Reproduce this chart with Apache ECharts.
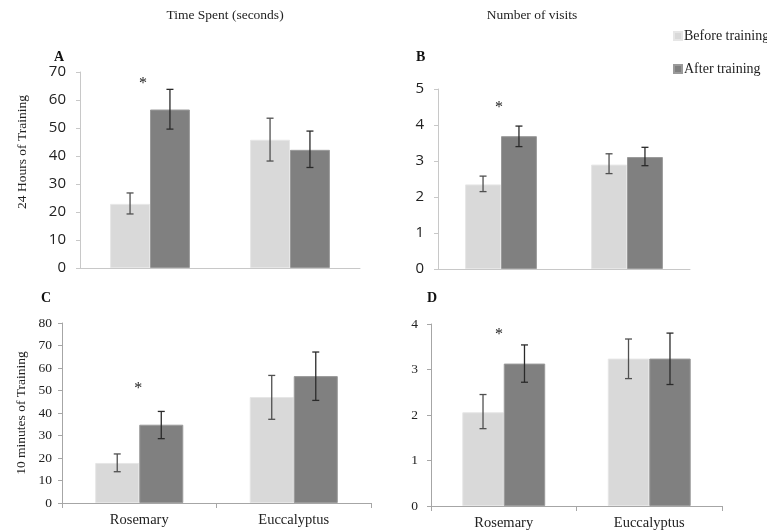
<!DOCTYPE html>
<html><head><meta charset="utf-8">
<script src="https://cdn.jsdelivr.net/npm/echarts@6/dist/echarts.min.js"></script>
<style>html,body{margin:0;padding:0;background:#fff}#c{width:767px;height:531px}</style>
</head><body><div id="c"></div>
<script>
const categories = ['Rosemary', 'Euccalyptus'];
const seriesNames = ['Before training', 'After training'];
// Panel A: time spent, 24 h
const aBefore = [22.9, 45.8], aBeforeLo = [19.3, 38.2], aBeforeHi = [26.8, 53.5];
const aAfter = [56.6, 42.2], aAfterLo = [49.6, 35.9], aAfterHi = [63.8, 48.9];
// Panel B: visits, 24 h
const bBefore = [2.35, 2.9], bBeforeLo = [2.15, 2.65], bBeforeHi = [2.58, 3.2];
const bAfter = [3.69, 3.11], bAfterLo = [3.4, 2.87], bAfterHi = [3.97, 3.38];
// Panel C: time spent, 10 min
const cBefore = [17.8, 47.1], cBeforeLo = [13.9, 37.2], cBeforeHi = [21.8, 56.7];
const cAfter = [34.8, 56.4], cAfterLo = [28.6, 45.6], cAfterHi = [40.7, 67.1];
// Panel D: visits, 10 min
const dBefore = [2.06, 3.24], dBeforeLo = [1.70, 2.80], dBeforeHi = [2.45, 3.67];
const dAfter = [3.13, 3.24], dAfterLo = [2.72, 2.67], dAfterHi = [3.54, 3.80];
// significance star heights
const starA = 67.1, starB = 4.6, starC = 52.6, starD = 3.86;
// y axis ranges
const yMaxA = 70, yIntA = 10, yMaxB = 5, yIntB = 1, yMaxC = 80, yIntC = 10, yMaxD = 4, yIntD = 1;
const yNameTop = '24 Hours of Training', yNameBottom = '10 minutes of Training';

const colBefore = '#d9d9d9', colAfter = '#808080';
const GAP = 0.43;
const serif = '"Liberation Serif", "Times New Roman", serif';
const sans = '"Open Sans", "Noto Sans", sans-serif';

const grids = [
  {left: 80, top: 72, width: 280, height: 196},
  {left: 438, top: 89, width: 252, height: 180},
  {left: 62, top: 323, width: 309, height: 180},
  {left: 431, top: 324, width: 291, height: 184}
];

function xAx(i, showLabels) {
  return {
    type: 'category', gridIndex: i, data: categories,
    axisLine: {lineStyle: {color: i < 2 ? '#c8c8c8' : '#a6a6a6', width: 1}},
    axisTick: {show: i >= 2, length: 5, lineStyle: {color: '#a6a6a6'}},
    axisLabel: {show: showLabels, fontFamily: serif, fontSize: 14.5, color: '#222', margin: 10}
  };
}
function yAx(i, max, interval, font, margin) {
  return {
    type: 'value', gridIndex: i, min: 0, max: max, interval: interval,
    splitLine: {show: false},
    axisLine: {show: true, lineStyle: {color: i < 2 ? '#c8c8c8' : '#a6a6a6'}},
    axisTick: {show: true, length: 4, lineStyle: {color: i < 2 ? '#c8c8c8' : '#a6a6a6'}},
    axisLabel: {fontFamily: font, fontSize: i < 2 ? 15 : 13.5, color: '#222', margin: margin}
  };
}

function barSeries(i, name, vals, color, star, starOff) {
  const s = {
    type: 'bar', name: name, xAxisIndex: i, yAxisIndex: i, data: vals,
    barGap: '0%', barCategoryGap: (GAP * 100) + '%',
    itemStyle: {color: color, borderColor: name === seriesNames[0] ? '#e6e6e6' : '#9a9a9a', borderWidth: 1},
    emphasis: {disabled: true}, silent: true
  };
  if (star !== undefined) {
    s.markPoint = {
      symbol: 'circle', symbolSize: 0, silent: true,
      label: {show: true, formatter: '*', fontFamily: serif, fontSize: 16, color: '#222', offset: [starOff, 4]},
      data: [{coord: [0, star]}]
    };
  }
  return s;
}

function errSeries(i, lo, hi, sign, color) {
  return {
    type: 'custom', xAxisIndex: i, yAxisIndex: i, silent: true, z: 5,
    data: lo.map((v, k) => [k, v, hi[k]]),
    renderItem: function (params, api) {
      const band = api.size([1, 0])[0];
      const bw = band * (1 - GAP) / 2;
      const pLo = api.coord([api.value(0), api.value(1)]);
      const pHi = api.coord([api.value(0), api.value(2)]);
      const x = pLo[0] + sign * bw / 2;
      const c = 3.5;
      const st = {stroke: color, lineWidth: 1.3};
      return {type: 'group', children: [
        {type: 'line', shape: {x1: x, y1: pLo[1], x2: x, y2: pHi[1]}, style: st},
        {type: 'line', shape: {x1: x - c, y1: pLo[1], x2: x + c, y2: pLo[1]}, style: st},
        {type: 'line', shape: {x1: x - c, y1: pHi[1], x2: x + c, y2: pHi[1]}, style: st}
      ]};
    }
  };
}

const panels = [
  [aBefore, aBeforeLo, aBeforeHi, aAfter, aAfterLo, aAfterHi, starA, 13],
  [bBefore, bBeforeLo, bBeforeHi, bAfter, bAfterLo, bAfterHi, starB, 16],
  [cBefore, cBeforeLo, cBeforeHi, cAfter, cAfterLo, cAfterHi, starC, 21],
  [dBefore, dBeforeLo, dBeforeHi, dAfter, dAfterLo, dAfterHi, starD, 16]
];
const series = [];
panels.forEach((p, i) => {
  series.push(barSeries(i, seriesNames[0], p[0], colBefore, p[6], p[7]));
  series.push(barSeries(i, seriesNames[1], p[3], colAfter));
  series.push(errSeries(i, p[1], p[2], -1, '#505050'));
  series.push(errSeries(i, p[4], p[5], 1, '#2a2a2a'));
});

const titleStyle = {fontFamily: serif, fontSize: 13.5, fontWeight: 'normal', color: '#222'};
const letterStyle = {fontFamily: serif, fontSize: 14, fontWeight: 'bold', color: '#111'};
const option = {
  animation: false,
  backgroundColor: '#fff',
  title: [
    {text: 'Time Spent (seconds)', left: 225, top: 8, padding: 0, textAlign: 'center', textStyle: titleStyle},
    {text: 'Number of visits', left: 532, top: 8, padding: 0, textAlign: 'center', textStyle: titleStyle},
    {text: 'A', left: 54, top: 50, padding: 0, textStyle: letterStyle},
    {text: 'B', left: 416, top: 50, padding: 0, textStyle: letterStyle},
    {text: 'C', left: 41, top: 291, padding: 0, textStyle: letterStyle},
    {text: 'D', left: 427, top: 291, padding: 0, textStyle: letterStyle}
  ],
  legend: {
    data: seriesNames, orient: 'vertical', left: 668, top: 24, itemGap: 19,
    icon: 'rect', itemWidth: 8, itemHeight: 8,
    textStyle: {fontFamily: serif, fontSize: 14, color: '#222', padding: [0, 0, 0, -3]},
    selectedMode: false
  },
  graphic: [
    {type: 'text', x: 22, y: 152, rotation: Math.PI / 2, silent: true,
     style: {text: yNameTop, font: '13.5px ' + serif, fill: '#222', align: 'center', verticalAlign: 'middle'}},
    {type: 'text', x: 21, y: 413, rotation: Math.PI / 2, silent: true,
     style: {text: yNameBottom, font: '13.5px ' + serif, fill: '#222', align: 'center', verticalAlign: 'middle'}}
  ],
  grid: grids,
  xAxis: [xAx(0, false), xAx(1, false), xAx(2, true), xAx(3, true)],
  yAxis: [
    yAx(0, yMaxA, yIntA, sans, 14),
    yAx(1, yMaxB, yIntB, sans, 14),
    yAx(2, yMaxC, yIntC, serif, 10),
    yAx(3, yMaxD, yIntD, serif, 13)
  ],
  series: series
};
const chart = echarts.init(document.getElementById('c'), null, {renderer: 'canvas'});
chart.setOption(option);
</script>
</body></html>
